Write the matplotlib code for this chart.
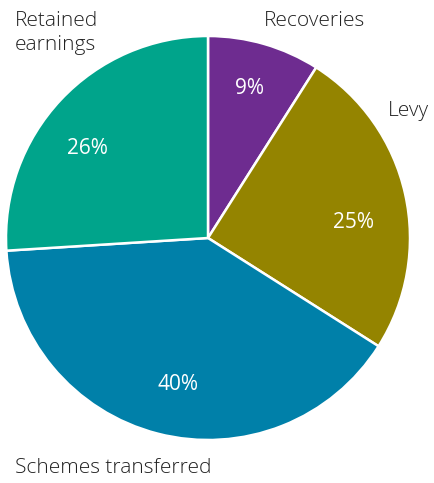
import matplotlib
matplotlib.use("Agg")
import matplotlib.pyplot as plt

categories = ["Recoveries", "Levy", "Schemes transferred", "Retained earnings"]
values = [9, 25, 40, 26]
colors = ["#6e2c90", "#948400", "#0080a9", "#00a48b"]

plt.rcParams['font.family'] = ['Open Sans', 'DejaVu Sans']

W, H = 434, 483
fig = plt.figure(figsize=(W / 100, H / 100), dpi=100)
ax = fig.add_axes([0, 0, 1, 1])

cx, cy, r = 208, 238, 202
wedges, _ = ax.pie(values, colors=colors, startangle=90, counterclock=False,
                   center=(cx, cy), radius=r, frame=True,
                   wedgeprops=dict(edgecolor='white', linewidth=1.8))
# y axis inverted: mirror wedges so visual order stays clockwise from top
for w in wedges:
    t1, t2 = w.theta1, w.theta2
    w.set_theta1(-t2)
    w.set_theta2(-t1)
ax.set_xlim(0, W)
ax.set_ylim(H, 0)
ax.set_aspect('equal')
ax.axis('off')

fs = 15
tc = '#222222'
fw = 'light'
ax.text(315, 21, categories[0], ha='center', va='center', fontsize=fs, color=tc, fontweight=fw)
ax.text(388, 111, categories[1], ha='left', va='center', fontsize=fs, color=tc, fontweight=fw)
ax.text(15, 468, categories[2], ha='left', va='center', fontsize=fs, color=tc, fontweight=fw)
ax.text(15, 33, "Retained\nearnings", ha='left', va='center', fontsize=fs,
        color=tc, linespacing=1.25, fontweight=fw)

pct_pos = [(249, 88), (353, 222), (178, 385), (87, 148)]
for (x, y), v in zip(pct_pos, values):
    ax.text(x, y, f"{v}%", ha='center', va='center', fontsize=15, color='white', fontweight='normal')

fig.savefig("out.png", dpi=100)
